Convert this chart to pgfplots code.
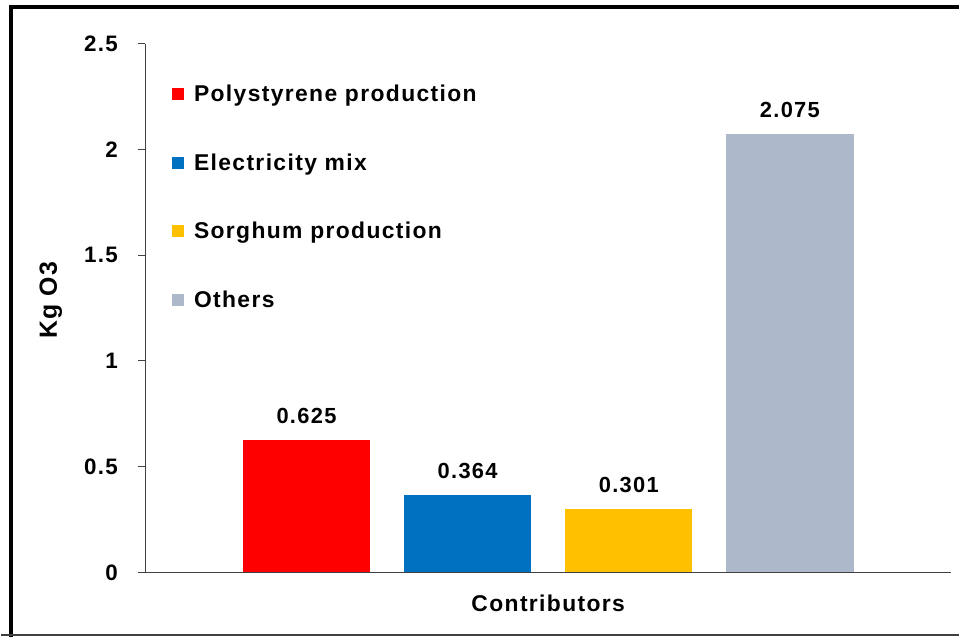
\documentclass[border=0pt]{standalone}
\usepackage{pgfplots}
\pgfplotsset{compat=1.18}
\usepackage{fontspec}
\setmainfont{Liberation Sans}
\newfontfamily\lsfont{Liberation Sans}[LetterSpace=6]
\definecolor{cRed}{RGB}{255,0,0}
\definecolor{cBlue}{RGB}{0,112,192}
\definecolor{cYel}{RGB}{255,192,0}
\definecolor{cGrey}{RGB}{173,184,202}
\definecolor{axgray}{RGB}{64,64,64}
\begin{document}
\begin{tikzpicture}[x=1bp,y=1bp]
\fill[white] (0,0) rectangle (961,639);
\draw[black,line width=4bp] (10,0) -- (10,632) -- (961,632);
\draw[black!75,line width=1.5bp] (0,2) -- (961,2);
\begin{axis}[
  at={(145bp,65bp)}, anchor=south west,
  scale only axis, width=808bp, height=530bp,
  xmin=-1, xmax=4, ymin=0, ymax=2.5,
  ytick={0,0.5,1,1.5,2,2.5},
  xtick=\empty,
  axis lines*=left,
  axis line style={axgray, line width=1.2bp},
  y axis line style={-}, x axis line style={-},
  ytick pos=left, tick align=outside, major tick length=7bp,
  tick style={axgray, line width=1bp},
  /pgf/number format/assume math mode=true,
  tick label style={font=\lsfont\fontsize{22.5}{26}\selectfont\bfseries},
  yticklabel style={xshift=-17bp},
  ylabel={Kg O3},
  ylabel style={font=\lsfont\fontsize{25}{28}\selectfont\bfseries, at={(rel axis cs:0,0.515)}, anchor=south, yshift=80bp},
  xlabel={Contributors},
  xlabel style={font=\lsfont\fontsize{23}{26}\selectfont\bfseries, at={(rel axis cs:0.5,0)}, anchor=center, yshift=-31bp},
  ybar, bar width=0.79, bar shift=0pt,
  nodes near coords, point meta=explicit symbolic,
  every node near coord/.append style={font=\lsfont\fontsize{22}{24}\selectfont\bfseries, black, yshift=13bp},
  legend style={at={(rel axis cs:0.033,0.927)}, anchor=north west, draw=none, fill=none,
    font=\lsfont\fontsize{23}{24}\selectfont\bfseries, row sep=47bp, inner sep=0pt,
    /tikz/every odd column/.append style={column sep=8bp}},
  legend cell align=left,
  legend image code/.code={\fill[#1] (0bp,-6bp) rectangle (12bp,6bp);},
]
\addplot[draw=none, fill=cRed] coordinates {(0,0.625) [0.625]};
\addlegendentry{Polystyrene production}
\addplot[draw=none, fill=cBlue] coordinates {(1,0.364) [0.364]};
\addlegendentry{Electricity mix}
\addplot[draw=none, fill=cYel] coordinates {(2,0.301) [0.301]};
\addlegendentry{Sorghum production}
\addplot[draw=none, fill=cGrey] coordinates {(3,2.075) [2.075]};
\addlegendentry{Others}
\end{axis}
\end{tikzpicture}
\end{document}
